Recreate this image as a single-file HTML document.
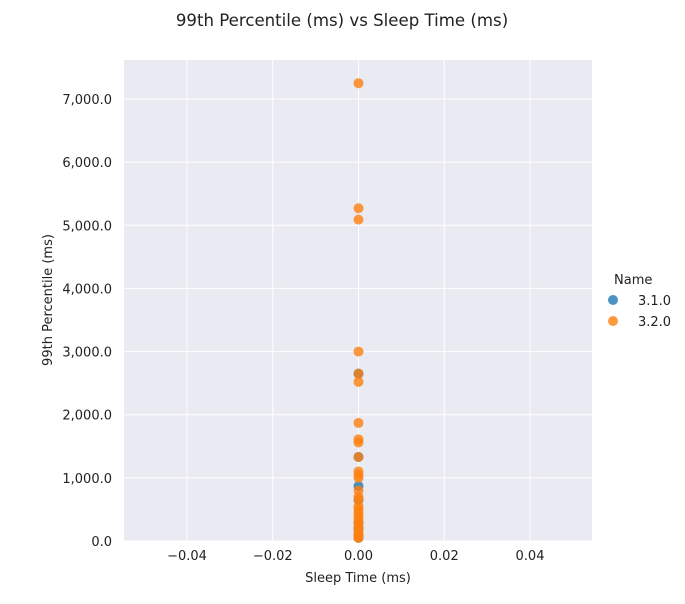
<!DOCTYPE html>
<html><head><meta charset="utf-8"><style>
body{margin:0;background:#fff;font-family:"DejaVu Sans","Liberation Sans",sans-serif;}
</style></head><body>
<svg id="c" width="685" height="600" xmlns="http://www.w3.org/2000/svg" font-family="DejaVu Sans, Liberation Sans, sans-serif">
<rect x="0" y="0" width="685" height="600" fill="#fff"/>
<text x="342" y="26" text-anchor="middle" font-size="16.6" fill="#222">99th Percentile (ms) vs Sleep Time (ms)</text>
<rect x="124" y="60" width="468" height="481" fill="#eaeaf2"/>
<g id="grid"></g><g id="pts"></g><g id="ticks"></g>
<text x="358" y="582" text-anchor="middle" font-size="13" fill="#222">Sleep Time (ms)</text>
<text transform="translate(52,300) rotate(-90)" text-anchor="middle" font-size="13" fill="#222">99th Percentile (ms)</text>
<text x="614" y="284" font-size="13" fill="#222">Name</text>
<g><circle cx="613" cy="300" r="5" fill="#1f77b4" fill-opacity="0.8"/><text x="638" y="305" font-size="13" fill="#222">3.1.0</text></g>
<g><circle cx="613" cy="321" r="5" fill="#ff7f0e" fill-opacity="0.8"/><text x="638" y="326" font-size="13" fill="#222">3.2.0</text></g>
</svg>
<script>
const xTicks=[-0.04,-0.02,0,0.02,0.04];
const yTicks=[0,1000,2000,3000,4000,5000,6000,7000];
const series=["3.1.0","3.2.0"];
const colors=["#1f77b4","#ff7f0e"];
const blueY=[2650,1330,870,650,300,200,100,50];
const blueX=[0,0,0,0,0,0,0,0];
const orangeY=[7250,5270,5090,3000,2650,2520,1870,1610,1560,1330,1100,1050,1000,800,700,650,550,500,450,400,350,300,250,200,150,100,80,60,50];
const orangeX=orangeY.map(()=>0);
const X=v=>358.5+v*(343/0.08);
const Y=v=>541-v*(442/7000);
const ns="http://www.w3.org/2000/svg";
const grid=document.getElementById('grid'),tk=document.getElementById('ticks'),pts=document.getElementById('pts');
function mk(t,a,p){const e=document.createElementNS(ns,t);for(const k in a)e.setAttribute(k,a[k]);p.appendChild(e);return e;}
xTicks.forEach(v=>{
 const l=mk('line',{x1:X(v),x2:X(v),y1:60,y2:541,stroke:'#fff','stroke-width':1},grid);
 
 
 const t=mk('text',{x:X(v),y:560,'text-anchor':'middle','font-size':13,fill:'#222'},tk);t.textContent=v.toFixed(2).replace('-','\u2212');
 
 
});
yTicks.forEach(v=>{
 const l=mk('line',{x1:124,x2:592,y1:Y(v),y2:Y(v),stroke:'#fff','stroke-width':1},grid);
 
 
 const t=mk('text',{x:112,y:Y(v)+5,'text-anchor':'end','font-size':13,fill:'#222'},tk);t.textContent=v.toLocaleString('en-US')+'.0';
 
 
});
[[blueX,blueY,0],[orangeX,orangeY,1]].forEach(([xs,ys,i])=>{
 ys.forEach((v,j)=>{
  const c=mk('circle',{cx:X(xs[j]),cy:Y(v),r:5,fill:colors[i],'fill-opacity':0.8},pts);
  
  
 });
});
</script>
</body></html>
